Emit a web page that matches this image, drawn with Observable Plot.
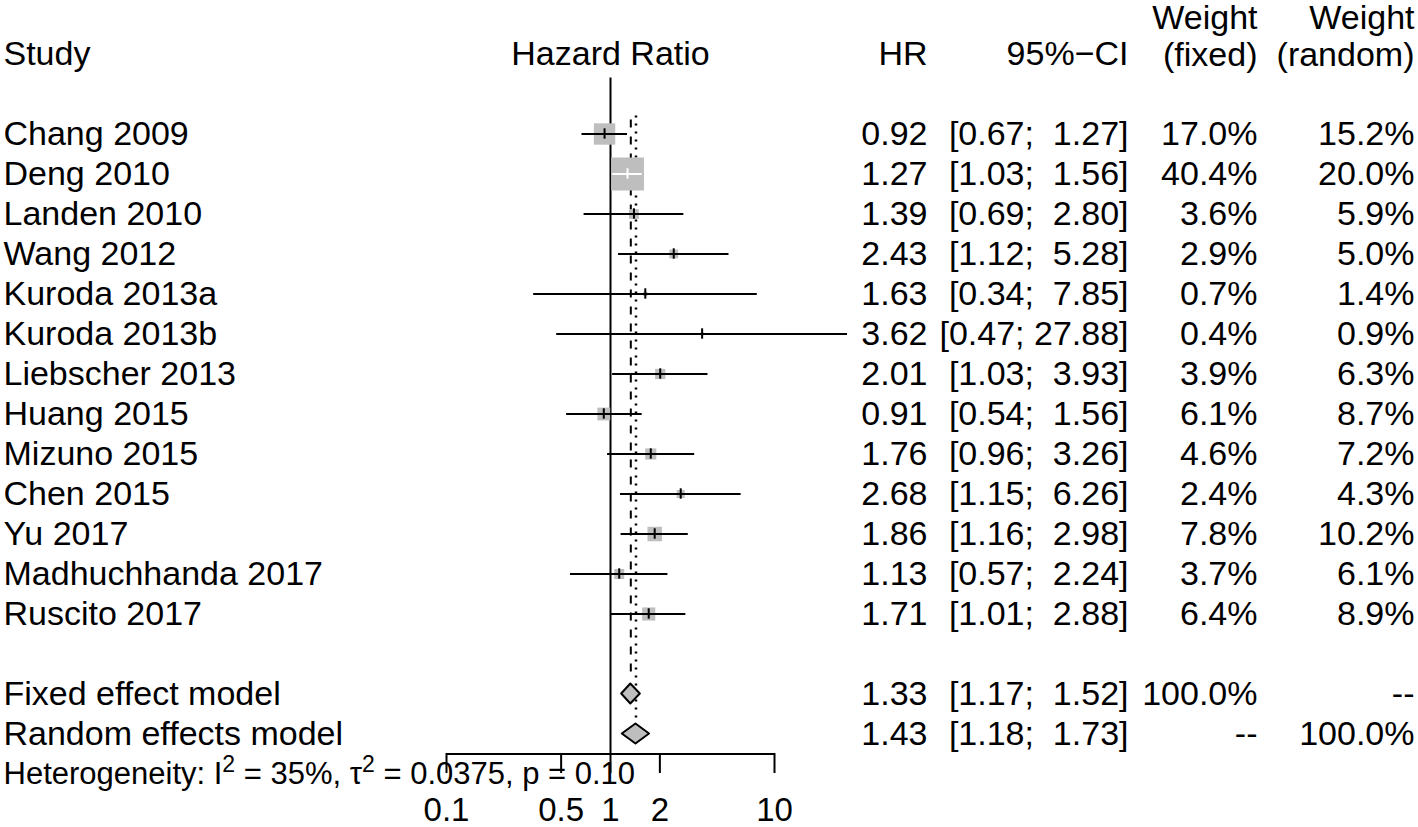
<!DOCTYPE html>
<html>
<head>
<meta charset="utf-8">
<script src="https://cdn.jsdelivr.net/npm/d3@7"></script>
<script src="https://cdn.jsdelivr.net/npm/@observablehq/plot@0.6"></script>
<style>
  html, body { margin: 0; padding: 0; background: white; }
  svg text { white-space: pre; }
</style>
</head>
<body>
<script>
// ---------- data ----------
const studies = ["Chang 2009", "Deng 2010", "Landen 2010", "Wang 2012", "Kuroda 2013a", "Kuroda 2013b",
  "Liebscher 2013", "Huang 2015", "Mizuno 2015", "Chen 2015", "Yu 2017", "Madhuchhanda 2017", "Ruscito 2017"];
const hr     = [0.92, 1.27, 1.39, 2.43, 1.63, 3.62, 2.01, 0.91, 1.76, 2.68, 1.86, 1.13, 1.71];
const lower  = [0.67, 1.03, 0.69, 1.12, 0.34, 0.47, 1.03, 0.54, 0.96, 1.15, 1.16, 0.57, 1.01];
const upper  = [1.27, 1.56, 2.80, 5.28, 7.85, 27.88, 3.93, 1.56, 3.26, 6.26, 2.98, 2.24, 2.88];
const weightFixed  = [17.0, 40.4, 3.6, 2.9, 0.7, 0.4, 3.9, 6.1, 4.6, 2.4, 7.8, 3.7, 6.4];
const weightRandom = [15.2, 20.0, 5.9, 5.0, 1.4, 0.9, 6.3, 8.7, 7.2, 4.3, 10.2, 6.1, 8.9];

const models      = ["Fixed effect model", "Random effects model"];
const modelHR     = [1.33, 1.43];
const modelLower  = [1.17, 1.18];
const modelUpper  = [1.52, 1.73];
const modelWFixed  = ["100.0%", "--"];
const modelWRandom = ["--", "100.0%"];

const hetI2 = "35%", hetTau2 = "0.0375", hetP = "0.10";
const xTicks = [0.1, 0.5, 1, 2, 10];
const headers = {study: "Study", plot: "Hazard Ratio", hr: "HR", ci: "95%\u2212CI",
  wf: ["Weight", "(fixed)"], wr: ["Weight", "(random)"]};

// ---------- layout (rows) ----------
const FIRST_ROW = 2;
const fmtCI = (l, u) => "[" + l.toFixed(2) + "; " + u.toFixed(2).padStart(5, " ") + "]";

const xOpts = {type: "log", domain: [0.1, 10], range: [446, 774]};
const rOpts = {type: "sqrt", domain: [0, d3.max(weightFixed)], range: [0, 18.6]};
const xs = Plot.scale({x: xOpts});
const rs = Plot.scale({r: rOpts});

const rows = studies.map((s, i) => {
  const half = rs.apply(weightFixed[i]) * Math.sqrt(Math.PI) / 2;
  const cx = xs.apply(hr[i]);
  const inside = xs.apply(lower[i]) >= cx - half && xs.apply(upper[i]) <= cx + half;
  return {
    study: s, row: FIRST_ROW + i, hr: hr[i], lower: lower[i], upper: upper[i],
    wf: weightFixed[i], wr: weightRandom[i], lineColor: inside ? "white" : "black",
    hrText: hr[i].toFixed(2), ciText: fmtCI(lower[i], upper[i]),
    wfText: weightFixed[i].toFixed(1) + "%", wrText: weightRandom[i].toFixed(1) + "%"
  };
});
const lastStudyRow = FIRST_ROW + studies.length - 1;
const modelRows = models.map((m, i) => ({
  study: m, row: lastStudyRow + 2 + i, hr: modelHR[i], lower: modelLower[i], upper: modelUpper[i],
  hrText: modelHR[i].toFixed(2), ciText: fmtCI(modelLower[i], modelUpper[i]),
  wfText: modelWFixed[i], wrText: modelWRandom[i]
}));
const axisRow = modelRows[1].row + 0.5;
const hetRow = modelRows[1].row + 1;
const diamonds = modelRows.flatMap(m => [
  {model: m.study, y: m.row - 0.25, x1: m.hr, x2: m.hr},
  {model: m.study, y: m.row, x1: m.lower, x2: m.upper},
  {model: m.study, y: m.row + 0.25, x1: m.hr, x2: m.hr}
]);
const tableRows = rows.concat(modelRows);
// heterogeneity text pieces; {sup} marks a superscript
const hetParts = ["Heterogeneity: I", {sup: "2"}, " = " + hetI2 + ", \u03c4", {sup: "2"},
  " = " + hetTau2 + ", p = " + hetP];
const hetText = hetParts.map(p => typeof p === "string" ? p : p.sup).join("");

// column right edges, relative to right frame edge
const col = {hr: -491, ci: -290, wf: -161, wr: -4};
const GREY = "#bebebe";
const FS = 34;

const chart = Plot.plot({
  width: 1418, height: 827,
  marginTop: 0, marginLeft: 0, marginRight: 0, marginBottom: 74,
  style: {fontFamily: "'Liberation Sans', Arial, sans-serif", fontSize: FS + "px", background: "white", color: "black"},
  x: {...xOpts, axis: null},
  y: {domain: [-1, 19], range: [13.5, 813.5], axis: null},
  r: rOpts,
  marks: [
    // reference line at 1
    Plot.ruleX([1], {y1: 0.6, y2: axisRow, strokeWidth: 2}),
    // pooled lines
    Plot.ruleX([modelHR[0]], {y1: FIRST_ROW - 0.35, y2: modelRows[0].row - 0.4, strokeWidth: 2, strokeDasharray: "8,9"}),
    Plot.ruleX([modelHR[1]], {y1: FIRST_ROW - 0.45, y2: modelRows[1].row - 0.4, strokeWidth: 2.5, strokeDasharray: "2,6"}),
    // squares
    Plot.dot(rows, {x: "hr", y: "row", r: "wf", symbol: "square", fill: GREY, stroke: null}),
    // CI lines
    Plot.ruleY(rows, {y: "row", x1: "lower", x2: "upper", stroke: "lineColor", strokeWidth: 2}),
    // point estimate ticks
    Plot.ruleX(rows, {x: "hr", y1: d => d.row - 0.13, y2: d => d.row + 0.13, stroke: "lineColor", strokeWidth: 2}),
    // diamonds
    Plot.areaX(diamonds, {y: "y", x1: "x1", x2: "x2", z: "model", fill: GREY, stroke: "black", strokeWidth: 2}),
    // axis
    Plot.ruleY([axisRow], {x1: xTicks[0], x2: xTicks[xTicks.length - 1], strokeWidth: 2}),
    Plot.axisX({ticks: xTicks, tickFormat: d => String(d), tickSize: 20, tickPadding: 24, strokeWidth: 2, fontSize: 33}),
    // headers
    Plot.text([headers.study], {frameAnchor: "left", dx: 3, y: 0, text: d => d, textAnchor: "start"}),
    Plot.text([headers.plot], {x: 1, y: 0, text: d => d}),
    Plot.text([headers.hr], {frameAnchor: "right", dx: col.hr, y: 0, text: d => d, textAnchor: "end"}),
    Plot.text([headers.ci], {frameAnchor: "right", dx: col.ci, y: 0, text: d => d, textAnchor: "end"}),
    Plot.text(headers.wf, {frameAnchor: "right", dx: col.wf, y: (d, i) => i - 0.9 - 0.08 * i, text: d => d, textAnchor: "end"}),
    Plot.text(headers.wr, {frameAnchor: "right", dx: col.wr, y: (d, i) => i - 0.9 - 0.08 * i, text: d => d, textAnchor: "end"}),
    // table
    Plot.text(tableRows, {frameAnchor: "left", dx: 3, y: "row", text: "study", textAnchor: "start"}),
    Plot.text(tableRows, {frameAnchor: "right", dx: col.hr, y: "row", text: "hrText", textAnchor: "end"}),
    Plot.text(tableRows, {frameAnchor: "right", dx: col.ci, y: "row", text: "ciText", textAnchor: "end"}),
    Plot.text(tableRows, {frameAnchor: "right", dx: col.wf, y: "row", text: "wfText", textAnchor: "end"}),
    Plot.text(tableRows, {frameAnchor: "right", dx: col.wr, y: "row", text: "wrText", textAnchor: "end"}),
    // heterogeneity
    Plot.text([hetText], {frameAnchor: "left", dx: 3, y: hetRow, text: d => d, textAnchor: "start", fontSize: 31})
  ]
});

// turn the heterogeneity superscripts into raised tspans
const hetEl = [...chart.querySelectorAll("text")].find(t => t.textContent === hetText);
if (hetEl) {
  hetEl.textContent = "";
  const NS = "http://www.w3.org/2000/svg";
  let raised = false;
  for (const p of hetParts) {
    const ts = document.createElementNS(NS, "tspan");
    if (typeof p === "string") {
      ts.textContent = p;
      if (raised) { ts.setAttribute("dy", "12"); raised = false; }
    } else {
      ts.textContent = p.sup;
      ts.setAttribute("font-size", "23");
      ts.setAttribute("dy", "-12");
      raised = true;
    }
    hetEl.appendChild(ts);
  }
}
document.body.appendChild(chart);
</script>
</body>
</html>
